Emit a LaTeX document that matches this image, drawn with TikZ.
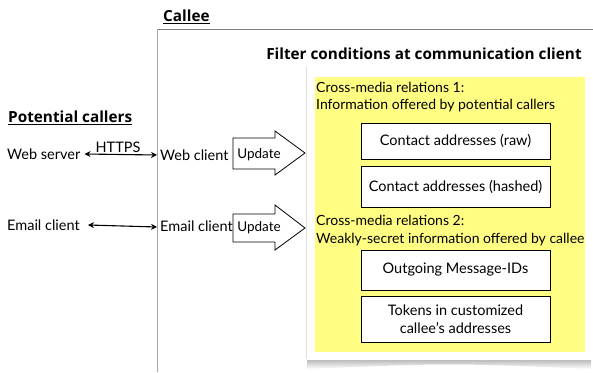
\documentclass[tikz,border=0pt]{standalone}
\usepackage{fontspec}
\setmainfont{Lato}
\newfontfamily\judulfont{Open Sans}
\usepackage{xcolor}
\usepackage{tikz}
\usetikzlibrary{positioning,arrows.meta}
\definecolor{kuning}{RGB}{255,253,130}
\tikzstyle{squared} = [rectangle, minimum width=189pt, text centered, draw=black, thick, fill=white, align=center, font=\fontsize{14.5}{18}\selectfont]
\tikzstyle{judul} = [font=\judulfont\fontsize{15.3}{18}\selectfont\bfseries, inner sep=1pt]
\tikzstyle{teks} = [font=\fontsize{14.5}{18}\selectfont, inner sep=1pt]
\tikzstyle{connect2} = [line width=1.1pt,{Stealth[length=6pt,width=6pt]}-{Stealth[length=6pt,width=6pt]}]
\tikzstyle{panah} = [draw=black, thick, fill=white, line join=miter]

\begin{document}
\begin{tikzpicture}[x=1pt,y=-1pt]
			\useasboundingbox (0,0) rectangle (593,372);
			% bingkai callee
			\draw [gray] (157,29) -- (593,29);
			\draw [gray!70] (157,29) -- (157,372);
			% panel dengan bayangan
			\shade [top color=gray!75, bottom color=white] (307,356) -- (591,356) -- (591,369) .. controls (449,363) .. (307,369) -- cycle;
			\fill [white] (306,67) rectangle (592,360);
			\draw [gray!25] (306,67) -- (306,359);
			\fill [kuning] (315,77) rectangle (585,352);

			% judul
			\node (callee) [judul, anchor=west] at (162,17) {\underline{Callee}};
			\node (callers) [judul, anchor=west] at (7,118) {\underline{Potential callers}};
			\node (filter) [judul] at (424,54) {Filter conditions at communication client};

			% sisi pemanggil
			\node (webserver) [teks, anchor=west] at (6,154) {Web server};
			\node (webclient) [teks, anchor=west] at (159,155) {Web client};
			\node (emailc) [teks, anchor=west] at (6,225) {Email client};
			\node (emailcallee) [teks, anchor=west] at (159,226) {Email client};

			% panah update
			\draw [panah] (233,138) -- (275,138) -- (275,131) -- (305,153) -- (275,175) -- (275,169) -- (233,169) -- cycle;
			\node (update1) [teks, font=\fontsize{13.5}{16}\selectfont] at (259,155) {Update};
			\draw [panah] (233,214) -- (275,214) -- (275,205) -- (305,228) -- (275,250) -- (275,242) -- (233,242) -- cycle;
			\node (update2) [teks, font=\fontsize{13.5}{16}\selectfont] at (259,228) {Update};

			% isi panel
			\node (rel1) [teks, font=\fontsize{14}{17}\selectfont, anchor=north west, align=left] at (315,81) {Cross-media relations 1:\\Information offered by potential callers};
			\node (raw) [squared, minimum height=36pt] at (455.5,141) {Contact addresses (raw)};
			\node (hashed) [squared, minimum height=41pt] at (455.5,186.5) {Contact addresses (hashed)};
			\node (rel2) [teks, font=\fontsize{14}{18}\selectfont, anchor=north west, align=left] at (315,214) {Cross-media relations 2:\\Weakly-secret information offered by callee};
			\node (msgid) [squared, minimum height=40pt] at (455.5,270) {Outgoing Message-IDs};
			\node (tokens) [squared, minimum height=46pt] at (455.5,319) {Tokens in customized\\callee's addresses};

			% garis koneksi
			\draw [connect2] ([xshift=3pt]webserver.east) -- (157,155) coordinate (w1);
			\node (https) [teks, above=1pt of w1, xshift=-39pt] {HTTPS};
			\draw [connect2] ([xshift=7pt]emailc.east) -- (157,227);
		\end{tikzpicture}
\end{document}
